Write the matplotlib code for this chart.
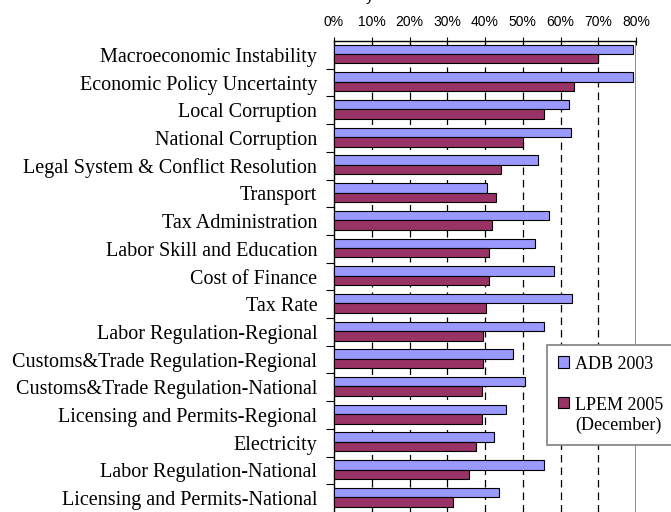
import numpy as np
import matplotlib
matplotlib.use('Agg')
import matplotlib.pyplot as plt
from matplotlib.patches import Patch

categories = ['Macroeconomic Instability', 'Economic Policy Uncertainty', 'Local Corruption',
              'National Corruption', 'Legal System & Conflict Resolution', 'Transport',
              'Tax Administration', 'Labor Skill and Education', 'Cost of Finance', 'Tax Rate',
              'Labor Regulation-Regional', 'Customs&Trade Regulation-Regional',
              'Customs&Trade Regulation-National', 'Licensing and Permits-Regional',
              'Electricity', 'Labor Regulation-National', 'Licensing and Permits-National']
adb_2003 = [79.2, 79.2, 62.2, 62.7, 54.1, 40.5, 56.9, 53.3, 58.3, 63.0,
            55.5, 47.5, 50.6, 45.6, 42.5, 55.5, 43.7]
lpem_2005 = [69.9, 63.5, 55.5, 50.0, 44.2, 43.0, 41.8, 41.1, 41.1, 40.2,
             39.4, 39.5, 39.3, 39.1, 37.7, 35.7, 31.5]
xticks = [0, 10, 20, 30, 40, 50, 60, 70, 80]

serif = 'Liberation Serif'
sans = 'Liberation Sans'

fig = plt.figure(figsize=(6.71, 5.12), dpi=100)
ax = fig.add_axes([334 / 671, 0.0, 302 / 671, 471 / 512])

y = np.arange(len(categories))
ax.barh(y - 0.2, adb_2003, height=0.34, color='#9999FF', edgecolor='black',
        linewidth=0.8, zorder=3, label='ADB 2003')
ax.barh(y + 0.14, lpem_2005, height=0.34, color='#993366', edgecolor='black',
        linewidth=0.8, zorder=3, label='LPEM 2005\n(December)')

# dashed vertical gridlines, last one gray
for xv in xticks[1:-1]:
    ax.axvline(xv, color='black', lw=0.9, dashes=(6, 4), zorder=1)
ax.axvline(xticks[-1], color='#909090', lw=1.4, zorder=1)

ax.set_xlim(0, 80)
ax.set_ylim(len(categories) - 0.5, -0.5)

ax.xaxis.tick_top()
ax.set_xticks(xticks)
ax.set_xticklabels(['%d%%' % v for v in xticks], fontfamily=sans, fontsize=10)
ax.tick_params(axis='x', direction='inout', length=6, width=0.8, pad=6)

# boundary ticks on the y axis, labels at category centres
ax.set_yticks(np.arange(len(categories) - 1) + 0.5)
ax.set_yticklabels([])
ax.tick_params(axis='y', which='major', direction='out', length=6, width=0.8)
ax.set_yticks(y, minor=True)
ax.set_yticklabels(categories, minor=True, fontfamily=serif, fontsize=14.5)
ax.tick_params(axis='y', which='minor', length=0, pad=12)

ax.spines['right'].set_visible(False)
ax.spines['bottom'].set_visible(False)
ax.spines['top'].set_linewidth(1.0)
ax.spines['left'].set_linewidth(1.0)

handles = [Patch(facecolor='#9999FF', edgecolor='black', linewidth=0.8),
           Patch(facecolor='#993366', edgecolor='black', linewidth=0.8)]
leg = ax.legend(handles, ['ADB 2003', 'LPEM 2005\n(December)'],
                loc='upper left', bbox_to_anchor=(547 / 671, 1 - 345 / 512),
                bbox_transform=fig.transFigure, borderaxespad=0,
                prop={'family': serif, 'size': 13}, frameon=True, fancybox=False,
                framealpha=1, edgecolor='#808080', handlelength=0.62, handleheight=0.62,
                handletextpad=0.3, labelspacing=1.3, borderpad=0.62)
leg.get_frame().set_linewidth(1.2)
# put each swatch level with the first line of its label
for column in leg._legend_handle_box.get_children():
    for row in column.get_children():
        row.align = 'top'

fig.text(370 / 671, 1 - 1.5 / 512, 'y', fontfamily=sans, fontsize=11,
         ha='center', va='baseline')

fig.savefig('out.png', dpi=100)
